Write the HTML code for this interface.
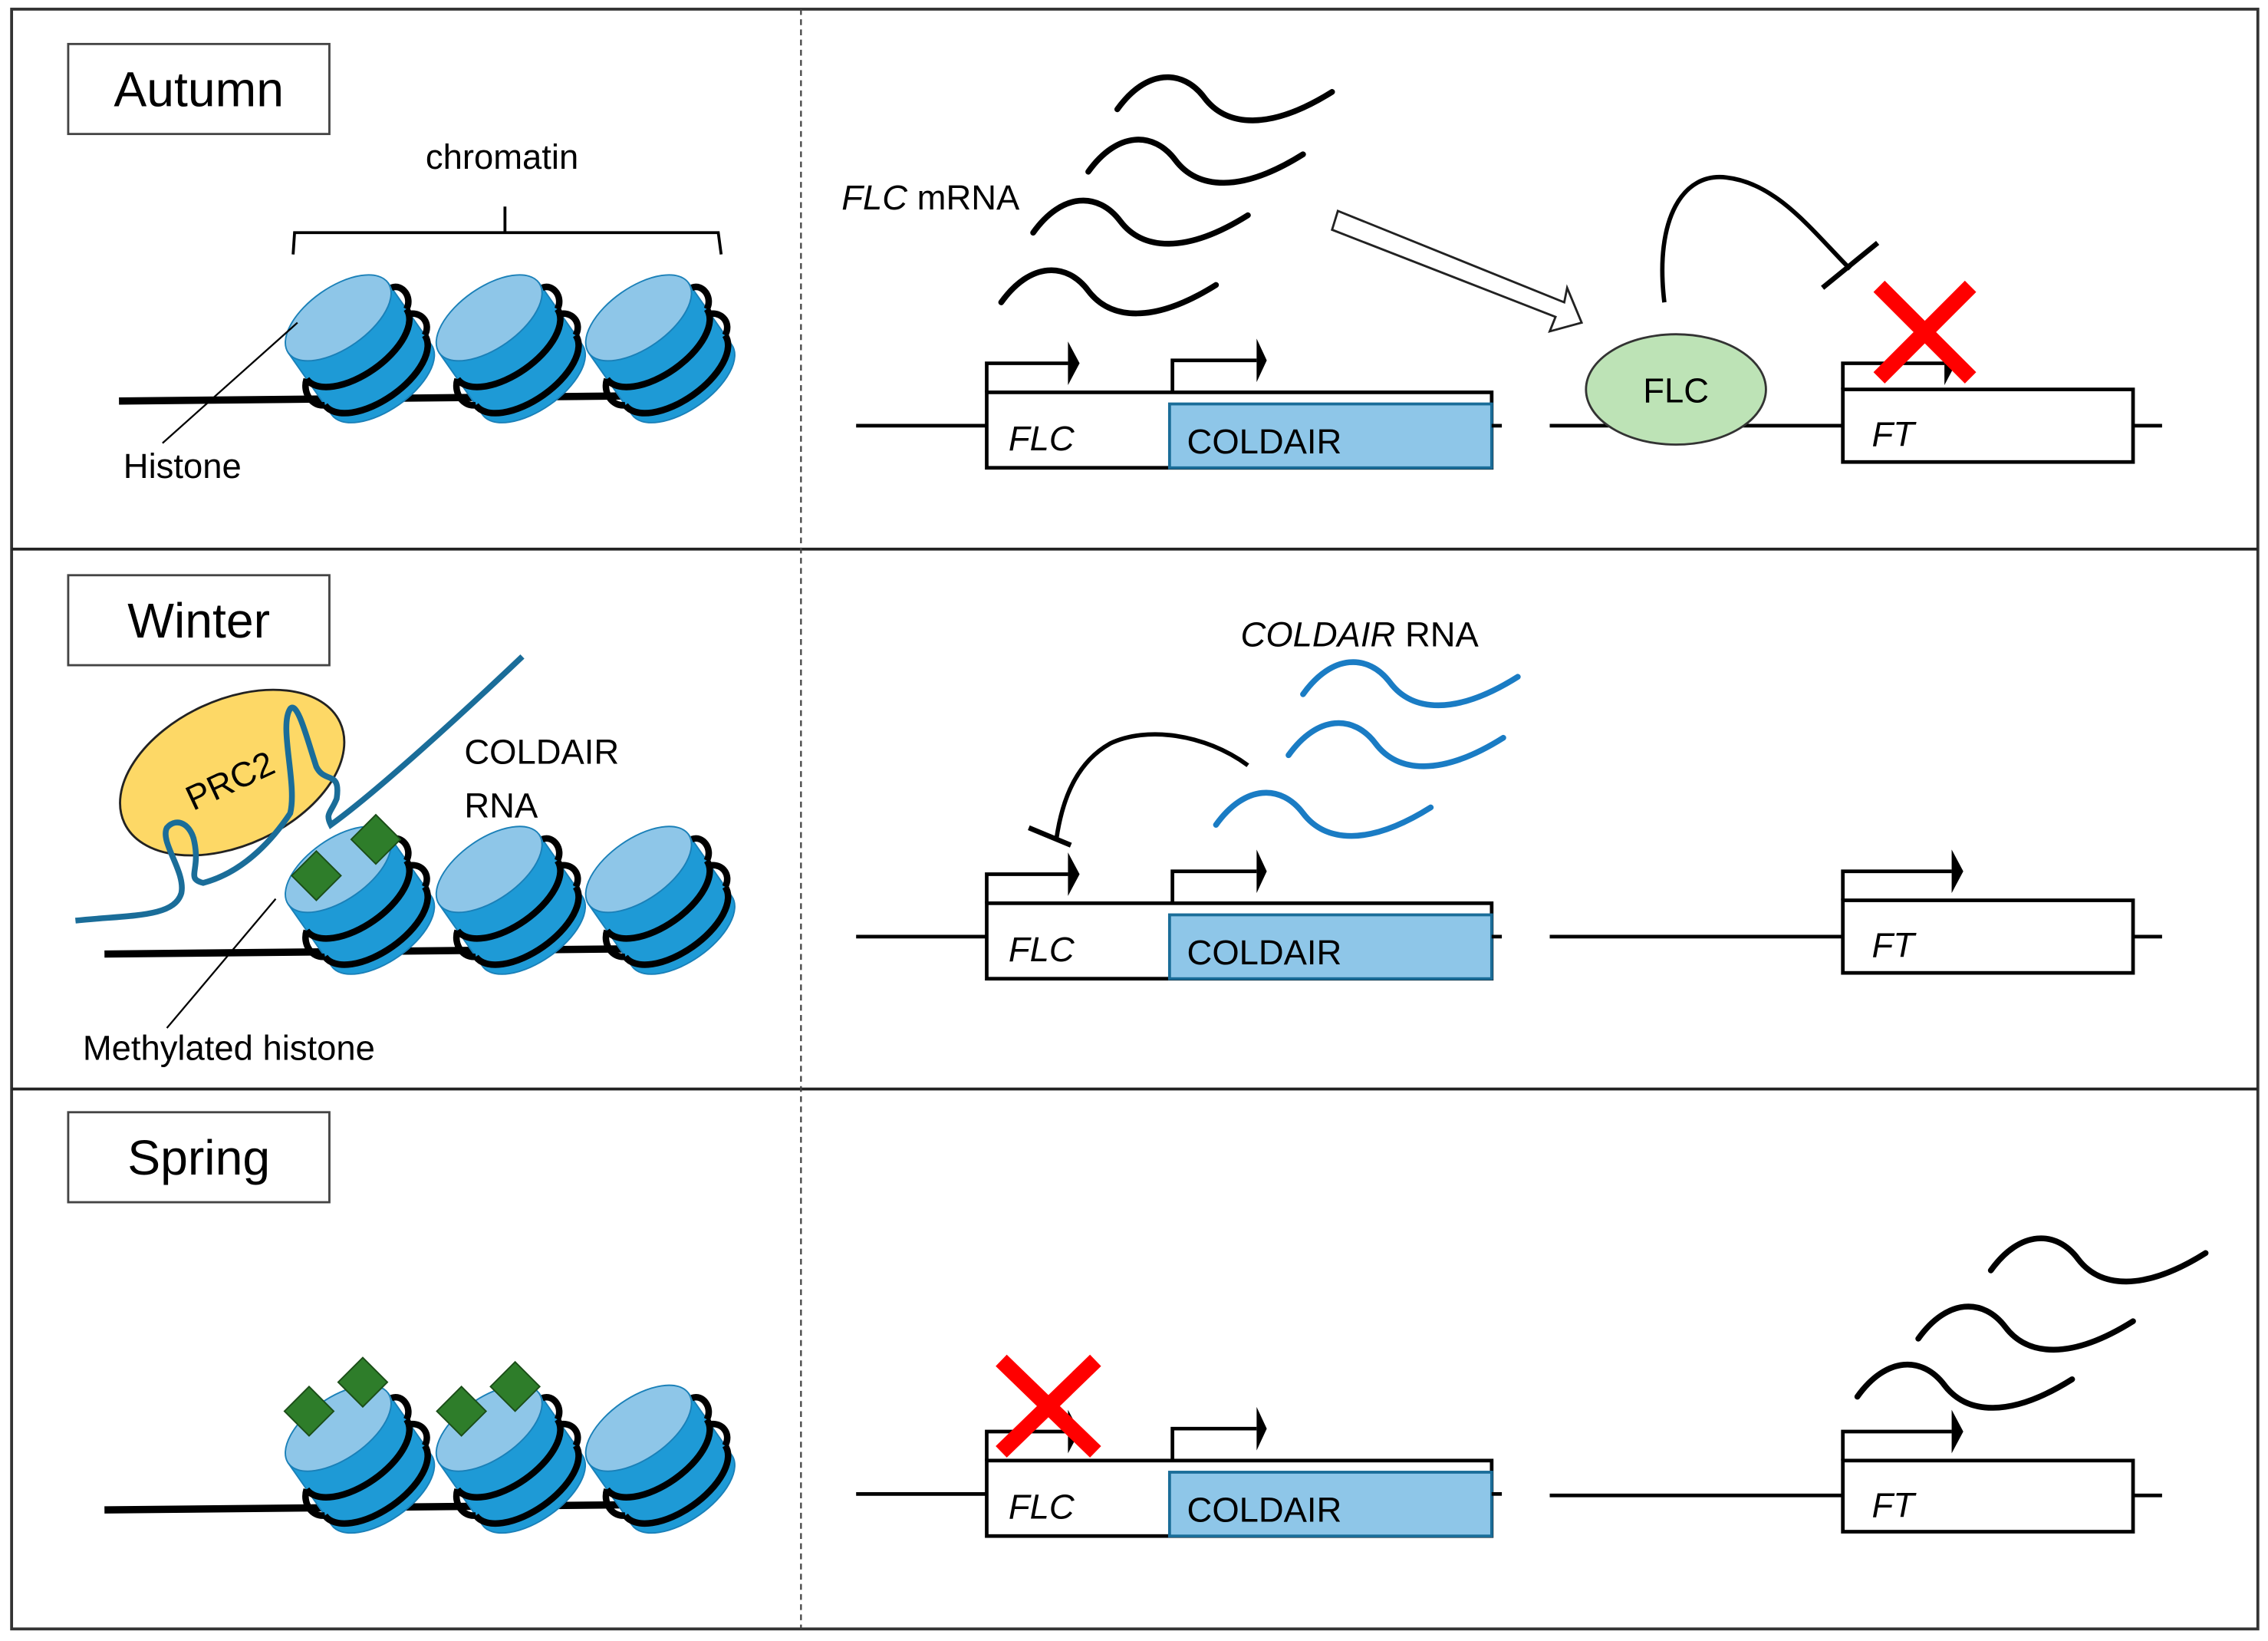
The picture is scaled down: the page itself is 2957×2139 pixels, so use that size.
<!DOCTYPE html>
<html><head><meta charset="utf-8"><style>html,body{margin:0;padding:0;background:#fff}svg{display:block}</style></head>
<body>
<svg width="2957" height="2139" viewBox="0 0 1563 1130" xmlns="http://www.w3.org/2000/svg" font-family="Liberation Sans, DejaVu Sans, sans-serif">
<defs>
<g id="nuc">
 <g transform="rotate(-35)">
  <path d="M-42,-26 L-42,26 A42,21 0 0 0 42,26 L42,-26 Z" fill="#1e9ad6" stroke="#1a80b8" stroke-width="1"/>
  <ellipse cx="0" cy="-26" rx="42" ry="21" fill="#8ec6e8" stroke="#1a80b8" stroke-width="1"/>
  <path d="M-42,-4 A42,21 0 0 0 42,-4 M-42,18 A42,21 0 0 0 42,18" fill="none" stroke="#000" stroke-width="4.5"/>
  <path d="M42,-4 C50,-8 50,-20 42,-22 M-42,18 C-50,14 -50,2 -42,-4 M42,18 C50,14 50,4 42,0" fill="none" stroke="#000" stroke-width="4.5"/>
 </g>
</g>
<path id="wv" d="M0,0 C20,-28 45,-28 60,-8 S105,15 148,-12" fill="none" stroke-width="4" stroke-linecap="round"/>
<g id="dia"><rect x="-12" y="-12" width="24" height="24" fill="#2e7d2a" stroke="#1b4d18" stroke-width="1" transform="rotate(45)"/></g>
</defs>
<rect width="1563" height="1130" fill="#fff"/>
<rect x="8" y="6" width="1548" height="1116" fill="none" stroke="#333" stroke-width="2"/>
<line x1="8" y1="378" x2="1556" y2="378" stroke="#222" stroke-width="2"/>
<line x1="8" y1="750" x2="1556" y2="750" stroke="#222" stroke-width="2"/>
<line x1="552" y1="6" x2="552" y2="1122" stroke="#444" stroke-width="1.2" stroke-dasharray="4,3"/>

<rect x="47" y="30" width="180" height="62" fill="#fff" stroke="#444" stroke-width="1.5"/>
<text x="137" y="73" font-size="34" text-anchor="middle">Autumn</text>
<rect x="47" y="396" width="180" height="62" fill="#fff" stroke="#444" stroke-width="1.5"/>
<text x="137" y="439" font-size="34" text-anchor="middle">Winter</text>
<rect x="47" y="766" width="180" height="62" fill="#fff" stroke="#444" stroke-width="1.5"/>
<text x="137" y="809" font-size="34" text-anchor="middle">Spring</text>

<!-- Autumn left -->
<text x="346" y="116" font-size="24" text-anchor="middle">chromatin</text>
<path d="M202,175 L203,160 L495,160 L497,175 M348,160 L348,142" fill="none" stroke="#000" stroke-width="2"/>
<line x1="82" y1="276" x2="480" y2="272" stroke="#000" stroke-width="5"/>
<use href="#nuc" x="248" y="240"/>
<use href="#nuc" x="352" y="240"/>
<use href="#nuc" x="455" y="240"/>
<line x1="112" y1="305" x2="205" y2="222" stroke="#000" stroke-width="1.2"/>
<text x="85" y="329" font-size="24">Histone</text>

<!-- Winter left -->
<ellipse cx="160" cy="532" rx="82" ry="50" fill="#fdd866" stroke="#222" stroke-width="1.5" transform="rotate(-25 160 532)"/>
<text x="162" y="545" font-size="24" text-anchor="middle" transform="rotate(-25 162 545)">PRC2</text>
<line x1="72" y1="657" x2="480" y2="653" stroke="#000" stroke-width="5"/>
<use href="#nuc" x="248" y="620"/>
<use href="#nuc" x="352" y="620"/>
<use href="#nuc" x="455" y="620"/>
<path d="M52,634 C90,630 120,632 125,615 C128,600 110,580 115,570 C122,562 132,568 134,580 C138,600 128,605 140,608 C170,600 190,575 200,560 C205,540 192,500 200,488 C205,482 212,510 218,528 C224,540 235,530 232,550 C228,560 224,560 228,568 C260,545 320,490 360,452" fill="none" stroke="#1a6d99" stroke-width="4"/>
<use href="#dia" x="218" y="603"/>
<use href="#dia" x="259" y="578"/>
<text x="320" y="526" font-size="24">COLDAIR</text>
<text x="320" y="563" font-size="24">RNA</text>
<line x1="115" y1="708" x2="190" y2="619" stroke="#000" stroke-width="1.2"/>
<text x="57" y="730" font-size="24">Methylated histone</text>

<!-- Spring left -->
<line x1="72" y1="1040" x2="480" y2="1036" stroke="#000" stroke-width="5"/>
<use href="#nuc" x="248" y="1005"/>
<use href="#nuc" x="352" y="1005"/>
<use href="#nuc" x="455" y="1005"/>
<use href="#dia" x="213" y="972"/>
<use href="#dia" x="250" y="952"/>
<use href="#dia" x="318" y="972"/>
<use href="#dia" x="355" y="955"/>

<!-- Autumn right -->
<g stroke="#000">
<use href="#wv" x="770" y="75"/>
<use href="#wv" x="750" y="118"/>
<use href="#wv" x="712" y="160"/>
<use href="#wv" x="690" y="208"/>
</g>
<text x="580" y="144" font-size="24"><tspan font-style="italic">FLC</tspan> mRNA</text>
<path d="M922,145 L1078,208 L1080,198 L1090,222 L1068,228 L1072,218 L918,158 Z" fill="#fff" stroke="#222" stroke-width="1.5"/>
<g id="genes">
<line x1="590" y1="293" x2="680" y2="293" stroke="#000" stroke-width="2.5"/>
<rect x="680" y="270" width="348" height="52" fill="#fff" stroke="#000" stroke-width="2.5"/>
<rect x="806" y="278" width="222" height="44" fill="#8ec6e8" stroke="#1a6d99" stroke-width="2"/>
<line x1="1028" y1="293" x2="1035" y2="293" stroke="#000" stroke-width="2.5"/>
<path d="M680,270 L680,250 L736,250 M808,270 L808,248 L866,248" fill="none" stroke="#000" stroke-width="2.5"/>
<path d="M736,235 L744,250 L736,265 Z M866,233 L873,248 L866,263 Z" fill="#000"/>
<text x="695" y="310" font-size="24" font-style="italic">FLC</text>
<text x="818" y="312" font-size="24">COLDAIR</text>
</g>
<line x1="1068" y1="293" x2="1270" y2="293" stroke="#000" stroke-width="2.5"/>
<rect x="1270" y="268" width="200" height="50" fill="#fff" stroke="#000" stroke-width="2.5"/>
<line x1="1470" y1="293" x2="1490" y2="293" stroke="#000" stroke-width="2.5"/>
<path d="M1270,268 L1270,250 L1340,250" fill="none" stroke="#000" stroke-width="2.5"/>
<path d="M1340,235 L1348,250 L1340,265 Z" fill="#000"/>
<text x="1290" y="307" font-size="24" font-style="italic">FT</text>
<ellipse cx="1155" cy="268" rx="62" ry="38" fill="#bde3b6" stroke="#333" stroke-width="1.5"/>
<text x="1155" y="277" font-size="24" text-anchor="middle">FLC</text>
<path d="M1147,208 C1140,150 1160,118 1190,122 C1225,126 1250,160 1275,185" fill="none" stroke="#000" stroke-width="3"/>
<line x1="1256" y1="198" x2="1294" y2="167" stroke="#000" stroke-width="3.5"/>
<path d="M1295,197 L1358,260 M1358,197 L1295,260" stroke="#ff0000" stroke-width="11"/>

<!-- Winter right -->
<use href="#genes" x="0" y="352"/>
<line x1="1068" y1="645" x2="1270" y2="645" stroke="#000" stroke-width="2.5"/>
<rect x="1270" y="620" width="200" height="50" fill="#fff" stroke="#000" stroke-width="2.5"/>
<line x1="1470" y1="645" x2="1490" y2="645" stroke="#000" stroke-width="2.5"/>
<path d="M1270,620 L1270,600 L1345,600" fill="none" stroke="#000" stroke-width="2.5"/>
<path d="M1345,585 L1353,600 L1345,615 Z" fill="#000"/>
<text x="1290" y="659" font-size="24" font-style="italic">FT</text>
<text x="855" y="445" font-size="24"><tspan font-style="italic">COLDAIR</tspan> RNA</text>
<g stroke="#1a7cc4">
<use href="#wv" x="898" y="478"/>
<use href="#wv" x="888" y="520"/>
<use href="#wv" x="838" y="568"/>
</g>
<path d="M860,527 C830,505 790,500 765,512 C742,525 732,550 728,578" fill="none" stroke="#000" stroke-width="3"/>
<line x1="709" y1="570" x2="738" y2="582" stroke="#000" stroke-width="3.5"/>

<!-- Spring right -->
<use href="#genes" x="0" y="736"/>
<path d="M690,937 L755,1000 M755,937 L690,1000" stroke="#ff0000" stroke-width="11"/>
<line x1="1068" y1="1030" x2="1270" y2="1030" stroke="#000" stroke-width="2.5"/>
<rect x="1270" y="1006" width="200" height="49" fill="#fff" stroke="#000" stroke-width="2.5"/>
<line x1="1470" y1="1030" x2="1490" y2="1030" stroke="#000" stroke-width="2.5"/>
<path d="M1270,1006 L1270,986 L1345,986" fill="none" stroke="#000" stroke-width="2.5"/>
<path d="M1345,971 L1353,986 L1345,1001 Z" fill="#000"/>
<text x="1290" y="1045" font-size="24" font-style="italic">FT</text>
<g stroke="#000">
<use href="#wv" x="1372" y="875"/>
<use href="#wv" x="1322" y="922"/>
<use href="#wv" x="1280" y="962"/>
</g>
</svg>
</body></html>
